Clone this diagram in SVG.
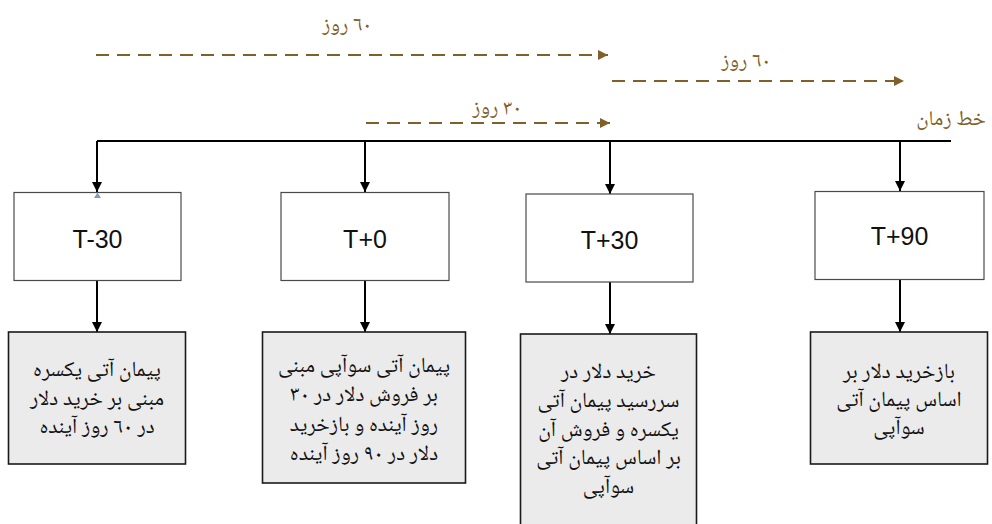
<svg xmlns="http://www.w3.org/2000/svg" width="992" height="524" viewBox="0 0 992 524">
  <style>
    .period { fill: #ffffff; stroke: #4a4a4a; stroke-width: 1.2; }
    .action { fill: #ebebeb; stroke: #1a1a1a; stroke-width: 1.6; }
    .tlabel { font-family: "Liberation Sans", "Open Sans", sans-serif; font-size: 25px; fill: #111; text-anchor: middle; }
    .fa { font-family: "Noto Naskh Arabic", "Noto Serif Arabic", "Liberation Serif", "DejaVu Sans", serif; font-size: 21.5px; fill: #111; text-anchor: middle; direction: rtl; }
    .span { font-family: "Noto Naskh Arabic", "Noto Serif Arabic", "Liberation Serif", "DejaVu Sans", serif; font-size: 21px; fill: #7f6028; text-anchor: middle; direction: rtl; }
    .link { stroke: #000; stroke-width: 2; fill: none; marker-end: url(#arrowBlack); }
    .dash { stroke: #7f6028; stroke-width: 2; fill: none; stroke-dasharray: 13 8; marker-end: url(#arrowBrown); }
  </style>
  <defs>
    <marker id="arrowBlack" viewBox="0 0 10 10" refX="10" refY="5" markerWidth="5" markerHeight="5" orient="auto" markerUnits="strokeWidth">
      <path d="M0,0 L10,5 L0,10 z" fill="#000"/>
    </marker>
    <marker id="arrowBrown" viewBox="0 0 10 10" refX="10" refY="5" markerWidth="5" markerHeight="5" orient="auto" markerUnits="strokeWidth">
      <path d="M0,0 L10,5 L0,10 z" fill="#7f6028"/>
    </marker>
  </defs>

  <!-- span arrows above the timeline -->
  <g id="spans">
    <path class="dash" d="M96,55 H608"/>
    <text class="span" x="347" y="31">٦٠ روز</text>
    <path class="dash" d="M612,81 H904"/>
    <text class="span" x="746" y="67">٦٠ روز</text>
    <path class="dash" d="M366,123 H610"/>
    <text class="span" x="497" y="114">٣٠ روز</text>
    <text class="span" x="951" y="125">خط زمان</text>
  </g>

  <!-- connectors -->
  <g id="connectors">
    <path d="M97,141 H951" stroke="#000" stroke-width="2" fill="none"/>
    <path class="link" d="M97,141 V192"/>
    <path class="link" d="M365,141 V192"/>
    <path class="link" d="M610,141 V194"/>
    <path class="link" d="M900,141 V191"/>
    <path class="link" d="M97,281 V332"/>
    <path class="link" d="M365,280 V332"/>
    <path class="link" d="M610,282 V334"/>
    <path class="link" d="M900,279 V332"/>
  </g>

  <!-- time points -->
  <g id="t-minus-30">
    <rect class="period" x="14" y="192.5" width="167" height="88"/>
    <path d="M94,198 L97.5,192.5 L101,198 z" fill="#7f9cc0"/>
    <text class="tlabel" x="97.5" y="248">T-30</text>
  </g>
  <g id="t-plus-0">
    <rect class="period" x="281" y="192.5" width="168" height="88"/>
    <text class="tlabel" x="365" y="248">T+0</text>
  </g>
  <g id="t-plus-30">
    <rect class="period" x="526" y="194" width="167" height="88"/>
    <text class="tlabel" x="609.5" y="249">T+30</text>
  </g>
  <g id="t-plus-90">
    <rect class="period" x="815" y="191.5" width="169" height="88"/>
    <text class="tlabel" x="899.5" y="245">T+90</text>
  </g>

  <!-- actions -->
  <g id="action-1">
    <rect class="action" x="8.5" y="332" width="177" height="132"/>
    <text class="fa" x="97" y="376">پیمان آتی یکسره</text>
    <text class="fa" x="97" y="405">مبنی بر خرید دلار</text>
    <text class="fa" x="97" y="433">در ٦٠ روز آینده</text>
  </g>
  <g id="action-2">
    <rect class="action" x="262.5" y="332" width="203" height="151"/>
    <text class="fa" x="364" y="372">پیمان آتی سوآپی مبنی</text>
    <text class="fa" x="364" y="401">بر فروش دلار در ٣٠</text>
    <text class="fa" x="364" y="431">روز آینده و بازخرید</text>
    <text class="fa" x="364" y="460">دلار در ٩٠ روز آینده</text>
  </g>
  <g id="action-3">
    <rect class="action" x="520.5" y="334" width="176" height="195"/>
    <text class="fa" x="608.5" y="378">خرید دلار در</text>
    <text class="fa" x="608.5" y="407">سررسید پیمان آتی</text>
    <text class="fa" x="608.5" y="436">یکسره و فروش آن</text>
    <text class="fa" x="608.5" y="464">بر اساس پیمان آتی</text>
    <text class="fa" x="608.5" y="493">سوآپی</text>
  </g>
  <g id="action-4">
    <rect class="action" x="810.5" y="332" width="177" height="132"/>
    <text class="fa" x="899" y="378">بازخرید دلار بر</text>
    <text class="fa" x="899" y="406">اساس پیمان آتی</text>
    <text class="fa" x="899" y="434">سوآپی</text>
  </g>
</svg>
